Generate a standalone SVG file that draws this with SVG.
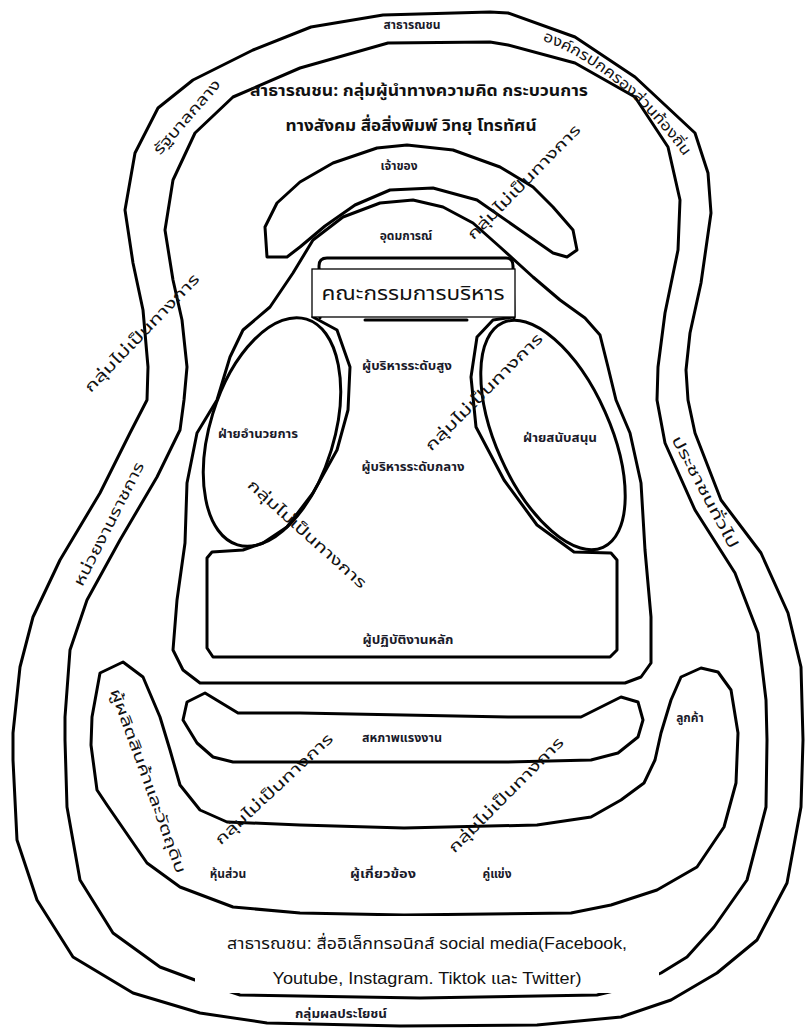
<svg xmlns="http://www.w3.org/2000/svg" width="808" height="1028" viewBox="0 0 808 1028">
<style>
.ln{fill:none;stroke:#000;stroke-width:3;stroke-linejoin:round;stroke-linecap:round}
.el{fill:none;stroke:#000;stroke-width:3}
text{font-family:"Noto Sans Thai","Tahoma","Leelawadee UI","Loma","Garuda","DejaVu Sans",sans-serif;fill:#111;text-anchor:middle}
.lb{font-size:15px}
.sm{font-size:12px;font-weight:bold;fill:#1a1a2a}
.big{font-size:16px;font-weight:bold}
.box{font-size:20px}
.en{font-family:"Liberation Sans","Noto Sans Thai",Arial,sans-serif;font-size:16px}
</style>
<rect width="808" height="1028" fill="#fff"/>
<g id="connectors">
<path id="lineA" class="ln" d="M 490,12 L 508,13 L 575,37 L 635,77 L 695,133 L 708,173 L 711,213 L 701,283 L 690,333 L 686,370 L 688,400 L 695,433 L 721,500 L 761,553 L 788,613 L 801,667 L 803,740 L 801,807 L 787,883 L 757,940 L 717,973 L 671,1000 L 621,1017 L 537,1025 L 400,1026 L 267,1023 L 200,1013 L 133,993 L 73,957 L 37,900 L 17,840 L 13,760 L 13,733 L 20,667 L 33,617 L 60,560 L 100,493 L 130,433 L 147,400 L 148,367 L 143,310 L 133,263 L 125,210 L 135,153 L 158,108 L 193,80 L 253,50 L 311,27 L 383,15 Z"/>
<path id="lineB" class="ln" d="M 388,43 L 490,42 L 508,45 L 575,63 L 635,97 L 668,147 L 680,200 L 678,250 L 665,313 L 658,367 L 657,400 L 665,443 L 695,510 L 735,573 L 758,633 L 766,700 L 767,740 L 766,807 L 747,880 L 714,927 L 687,957 L 661,973 L 630,987 L 597,995 L 420,998 L 240,995 L 195,980 L 160,967 L 113,933 L 80,880 L 67,807 L 65,740 L 65,717 L 70,650 L 87,600 L 120,540 L 157,477 L 180,430 L 184,400 L 187,367 L 182,320 L 173,280 L 165,230 L 173,180 L 195,133 L 233,97 L 300,68 Z"/>
</g>
<g id="u-band">
<path class="ln" d="M 123,662 L 100,673 L 92,717 L 91,745 L 97,790 L 107,805 L 147,863 L 180,887 L 233,907 L 300,913 L 404,915 L 571,913 L 611,905 L 657,890 L 697,867 L 724,827 L 736,783 L 738,733 L 731,690 L 718,672 L 701,668 L 681,677 L 671,700 L 661,733 L 655,760 L 644,783 L 621,800 L 591,817 L 537,825 L 404,828 L 300,825 L 227,822 L 200,810 L 180,785 L 170,750 L 160,717 L 143,677 Z"/>
</g>
<g id="union">
<path class="ln" d="M 205,693 L 238,713 L 300,713 L 508,717 L 581,717 L 621,697 L 638,702 L 643,720 L 638,737 L 618,753 L 591,760 L 508,762 L 233,762 L 213,757 L 197,743 L 183,720 L 187,702 Z"/>
</g>
<g id="torso">
<path class="ln" d="M 413,200 L 443,207 L 473,223 L 500,247 L 533,277 L 560,300 L 585,318 L 600,335 L 608,367 L 616,400 L 630,433 L 641,483 L 645,550 L 651,617 L 651,663 L 641,677 L 625,683 L 508,683 L 300,683 L 200,683 L 183,670 L 173,650 L 177,600 L 185,543 L 187,483 L 197,433 L 217,400 L 230,357 L 243,330 L 270,307 L 293,273 L 313,240 L 343,217 L 380,203 Z"/>
</g>
<g id="owner">
<path class="ln" d="M 267,257 L 265,227 L 277,203 L 300,182 L 333,163 L 377,148 L 407,145 L 453,150 L 500,167 L 533,187 L 553,207 L 573,230 L 577,250 L 567,257 L 553,253 L 520,230 L 477,200 L 433,188 L 390,190 L 355,205 L 325,226 L 300,247 L 287,257 Z"/>
</g>
<g id="center">
<path class="ln" d="M 320,318 L 319,266 Q 319,258 327,258 L 506,258 Q 513,258 513,266 L 514,318"/>
<path class="ln" d="M 365,320 L 467,320"/>
<path class="ln" d="M 313,317 L 337,330 L 350,367 L 348,410 L 337,450 L 313,493 L 287,527 L 263,543 L 243,550 L 212,552 L 207,558 L 207,648 L 213,657 L 610,657 L 617,650 L 617,560 L 611,553 L 574,552 L 537,525 L 504,480 L 476,427 L 471,377 L 477,337 L 493,320 L 513,317"/>
<ellipse class="el" cx="272" cy="432" rx="62" ry="118" transform="rotate(17 272 432)"/>
<ellipse class="el" cx="553" cy="435" rx="57" ry="123" transform="rotate(-24 553 435)"/>
</g>
<g id="committee">
<rect x="312" y="269" width="203" height="48" fill="#fff" stroke="#000" stroke-width="1.3"/>
<text class="box" x="413" y="300" textLength="183" lengthAdjust="spacingAndGlyphs">คณะกรรมการบริหาร</text>
</g>
<g id="media-box">
<rect x="195" y="916" width="464" height="77" fill="#fff"/>
<text class="en" x="427" y="949" textLength="400" lengthAdjust="spacingAndGlyphs">สาธารณชน: สื่ออิเล็กทรอนิกส์ social media(Facebook,</text>
<text class="en" x="427" y="984" textLength="309" lengthAdjust="spacingAndGlyphs">Youtube, Instagram. Tiktok และ Twitter)</text>
</g>
<g id="labels">
<text class="sm" x="412" y="29">สาธารณชน</text>
<path id="tp1" d="M 536,38 Q 622,68 688,162" fill="none"/>
<text class="lb"><textPath href="#tp1" startOffset="50%" textLength="186" lengthAdjust="spacingAndGlyphs">องค์กรปกครองส่วนท้องถิ่น</textPath></text>
<text class="lb" transform="translate(187,117) rotate(-49)" y="5" textLength="94" lengthAdjust="spacingAndGlyphs">รัฐบาลกลาง</text>
<text class="big" x="419" y="96" textLength="338" lengthAdjust="spacingAndGlyphs">สาธารณชน: กลุ่มผู้นำทางความคิด กระบวนการ</text>
<text class="big" x="411" y="131" textLength="251" lengthAdjust="spacingAndGlyphs">ทางสังคม สื่อสิ่งพิมพ์ วิทยุ โทรทัศน์</text>
<text class="sm" x="399" y="170">เจ้าของ</text>
<text class="sm" x="406" y="240">อุดมการณ์</text>
<text class="lb" transform="translate(524,182) rotate(-45.5)" y="5" textLength="154" lengthAdjust="spacingAndGlyphs">กลุ่มไม่เป็นทางการ</text>
<text class="lb" transform="translate(142,333) rotate(-46)" y="5" textLength="158" lengthAdjust="spacingAndGlyphs">กลุ่มไม่เป็นทางการ</text>
<text class="sm" x="407" y="370" textLength="90" lengthAdjust="spacingAndGlyphs">ผู้บริหารระดับสูง</text>
<text class="sm" x="258" y="438" textLength="80" lengthAdjust="spacingAndGlyphs">ฝ่ายอำนวยการ</text>
<text class="sm" x="560" y="442" textLength="74" lengthAdjust="spacingAndGlyphs">ฝ่ายสนับสนุน</text>
<text class="lb" transform="translate(484,392) rotate(-45)" y="5" textLength="159" lengthAdjust="spacingAndGlyphs">กลุ่มไม่เป็นทางการ</text>
<text class="sm" x="413" y="471" textLength="103" lengthAdjust="spacingAndGlyphs">ผู้บริหารระดับกลาง</text>
<text class="lb" transform="translate(109,524) rotate(-63)" y="5" textLength="137" lengthAdjust="spacingAndGlyphs">หน่วยงานราชการ</text>
<text class="lb" transform="translate(705,492) rotate(62)" y="5" textLength="125" lengthAdjust="spacingAndGlyphs">ประชาชนทั่วไป</text>
<text class="lb" transform="translate(307,534) rotate(42)" y="5" textLength="154" lengthAdjust="spacingAndGlyphs">กลุ่มไม่เป็นทางการ</text>
<text class="sm" x="408" y="644" textLength="91" lengthAdjust="spacingAndGlyphs">ผู้ปฏิบัติงานหลัก</text>
<text class="sm" x="690" y="722">ลูกค้า</text>
<text class="sm" x="402" y="742" textLength="80" lengthAdjust="spacingAndGlyphs">สหภาพแรงงาน</text>
<text class="lb" transform="translate(148,781) rotate(70)" y="5" textLength="195" lengthAdjust="spacingAndGlyphs">ผู้ผลิตสินค้าและวัตถุดิบ</text>
<text class="lb" transform="translate(274,789) rotate(-43)" y="5" textLength="155" lengthAdjust="spacingAndGlyphs">กลุ่มไม่เป็นทางการ</text>
<text class="lb" transform="translate(506,795) rotate(-45)" y="5" textLength="156" lengthAdjust="spacingAndGlyphs">กลุ่มไม่เป็นทางการ</text>
<text class="sm" x="228" y="878">หุ้นส่วน</text>
<text class="sm" x="383" y="878" textLength="66" lengthAdjust="spacingAndGlyphs">ผู้เกี่ยวข้อง</text>
<text class="sm" x="497" y="878">คู่แข่ง</text>
<text class="sm" x="341" y="1018" textLength="92" lengthAdjust="spacingAndGlyphs">กลุ่มผลประโยชน์</text>
</g>
</svg>
